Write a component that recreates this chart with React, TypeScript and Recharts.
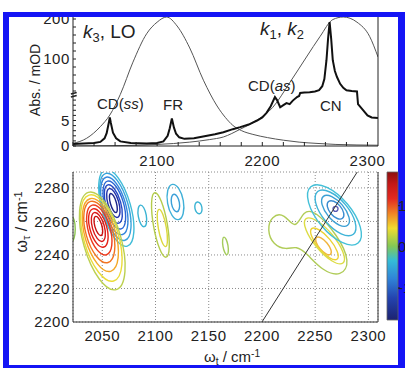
import React from 'react';
import {
  ComposedChart,
  Line,
  XAxis,
  YAxis,
  CartesianGrid,
  ReferenceLine,
  ReferenceArea,
} from 'recharts';

const FONT = '"Liberation Sans", Arial, Helvetica, sans-serif';
const INK = '#222';

// ---------- top panel: absorption spectrum (mOD) + two pulse spectra ----------
const absX = [2020, 2030, 2040, 2046, 2050, 2052, 2054, 2055, 2056, 2058, 2061, 2065, 2075, 2090, 2100, 2106, 2110, 2112, 2114, 2116, 2118, 2121, 2126, 2135, 2145, 2155, 2163, 2172, 2179, 2187, 2195, 2200, 2204, 2208, 2212, 2214, 2217, 2220, 2223, 2226, 2229, 2233, 2235, 2236, 2240, 2245, 2250, 2254, 2257, 2259, 2261, 2262.5, 2264, 2265.5, 2267, 2269, 2271, 2274, 2277, 2280, 2285, 2290, 2291, 2296, 2300, 2304, 2310];
const absY = [0.4, 0.5, 0.6, 0.8, 1.5, 2.5, 4.5, 5.6, 4.5, 2.6, 1.5, 0.9, 0.6, 0.5, 0.6, 0.9, 2.0, 3.5, 5.4, 3.6, 2.4, 1.7, 1.4, 1.5, 1.9, 2.3, 2.7, 3.3, 3.7, 4.2, 5.0, 5.6, 6.5, 7.8, 9.6, 9.0, 7.6, 8.0, 8.4, 8.2, 8.9, 9.6, 9.8, 15, 16, 17, 19, 22, 32, 50, 97, 150, 192, 150, 97, 70, 55, 38, 28, 22, 20, 19, 8.2, 7.0, 6.0, 5.6, 5.5];

// k3, LO pulse (normalised)
const k3X = [2020, 2033, 2046, 2055, 2065, 2077, 2090, 2100, 2109, 2119, 2131, 2144, 2157, 2165, 2172, 2180, 2191, 2205, 2220, 2235, 2252, 2270, 2290, 2310];
const k3Y = [0.02, 0.06, 0.15, 0.24, 0.4, 0.65, 0.87, 0.96, 1.0, 0.93, 0.76, 0.51, 0.31, 0.22, 0.16, 0.12, 0.09, 0.065, 0.045, 0.03, 0.02, 0.012, 0.008, 0.006];

// k1, k2 pulse (normalised)
const k12X = [2020, 2077, 2100, 2131, 2150, 2163, 2179, 2195, 2210, 2226, 2242, 2255, 2267, 2277, 2290, 2302, 2310];
const k12Y = [0.0, 0.005, 0.012, 0.03, 0.05, 0.07, 0.13, 0.2, 0.3, 0.49, 0.69, 0.85, 0.98, 1.0, 0.96, 0.85, 0.69];

const topTicksX = [2020, 2040, 2060, 2080, 2100, 2120, 2140, 2160, 2180, 2200, 2220, 2240, 2260, 2280, 2300];
const topLabelsX = [2100, 2200, 2300];
const absTicks = [0, 1, 2, 3, 4, 5, 6, 7, 8, 9, 20, 40, 60, 80, 100, 120, 140, 160, 180, 200];
const absLabels = [0, 5, 100, 200];

// broken axis: 0-10 mOD stretched, above 10 compressed
const toDisplay = (v: number) => (v <= 10 ? v * 5.1 : 51 + (v - 10) * 0.4);
const absTickD = absTicks.map(toDisplay);

const absData = absX.map((x, i) => ({ x, d: toDisplay(absY[i]) }));
const k3Data = k3X.map((x, i) => ({ x, n: k3Y[i] }));
const k12Data = k12X.map((x, i) => ({ x, n: k12Y[i] }));

// ---------- bottom panel: 2D spectrum contours (omega_t, omega_tau) ----------
const mapTicksX = [2050, 2100, 2150, 2200, 2250, 2300];
const mapTicksY = [2200, 2220, 2240, 2260, 2280];

// positive peak near (2046, 2257), inner -> outer
const redColors = ['#c81010', '#d81818', '#e42218', '#ee3a1c', '#f27420', '#f4a828', '#eadc38', '#bcd050'];
const redContours = [
  [[2049.2, 2251.0], [2050.8, 2253.3], [2049.8, 2257.9], [2046.8, 2262.2], [2043.5, 2263.6], [2041.8, 2261.3], [2042.8, 2256.7], [2045.9, 2252.4]],
  [[2050.6, 2247.2], [2053.5, 2250.8], [2052.3, 2257.8], [2047.5, 2264.2], [2042.0, 2266.2], [2039.1, 2262.6], [2040.3, 2255.6], [2045.1, 2249.2]],
  [[2052.0, 2243.5], [2056.3, 2248.3], [2054.7, 2257.6], [2048.2, 2266.1], [2040.6, 2268.7], [2036.3, 2263.9], [2037.9, 2254.6], [2044.4, 2246.1]],
  [[2054.6, 2238.5], [2060.2, 2244.7], [2058.1, 2256.9], [2049.7, 2267.9], [2039.8, 2271.3], [2034.2, 2265.1], [2036.3, 2252.9], [2044.7, 2241.9]],
  [[2056.3, 2233.5], [2063.1, 2241.2], [2060.6, 2256.2], [2050.2, 2269.7], [2038.1, 2273.9], [2031.3, 2266.3], [2033.8, 2251.3], [2044.2, 2237.7]],
  [[2059.0, 2227.9], [2066.7, 2236.9], [2063.6, 2254.7], [2051.4, 2270.9], [2037.4, 2275.9], [2029.7, 2266.9], [2032.8, 2249.1], [2045.0, 2233.0]],
  [[2061.9, 2221.7], [2070.5, 2232.3], [2066.5, 2253.3], [2052.3, 2272.4], [2036.3, 2278.5], [2027.8, 2267.9], [2031.7, 2246.9], [2045.9, 2227.8]],
  [[2064.5, 2216.2], [2073.6, 2228.1], [2068.9, 2251.9], [2053.1, 2273.6], [2035.5, 2280.6], [2026.4, 2268.1], [2031.1, 2245.0], [2046.9, 2223.2]],
];

// negative peak near (2060, 2271), inner -> outer
const blueColors = ['#1c2488', '#2030a8', '#2448c4', '#2a66d4', '#3286dc', '#38a4dc', '#40bcd8'];
const blueContours = [
  [[2063.3, 2264.7], [2064.5, 2266.9], [2063.4, 2271.5], [2060.5, 2275.8], [2057.6, 2277.3], [2056.3, 2275.1], [2057.4, 2270.5], [2060.3, 2266.2]],
  [[2064.7, 2261.5], [2067.3, 2265.0], [2065.9, 2272.0], [2061.2, 2278.4], [2056.1, 2280.5], [2053.5, 2277.0], [2054.9, 2270.0], [2059.6, 2263.6]],
  [[2066.1, 2257.8], [2069.7, 2262.4], [2067.9, 2271.8], [2061.6, 2280.3], [2054.7, 2283.0], [2051.1, 2278.4], [2052.9, 2269.0], [2059.2, 2260.5]],
  [[2068.4, 2254.0], [2073.0, 2259.9], [2070.7, 2271.5], [2062.9, 2282.2], [2054.2, 2285.6], [2049.6, 2279.8], [2051.9, 2268.1], [2059.7, 2257.4]],
  [[2069.9, 2250.4], [2075.4, 2257.4], [2072.7, 2271.4], [2063.3, 2284.2], [2052.8, 2288.2], [2047.2, 2281.2], [2049.9, 2267.2], [2059.3, 2254.4]],
  [[2072.3, 2246.6], [2078.5, 2254.7], [2075.2, 2271.1], [2064.4, 2286.0], [2052.3, 2290.8], [2046.1, 2282.7], [2049.4, 2266.3], [2060.2, 2251.4]],
  [[2074.6, 2242.8], [2081.4, 2252.1], [2077.6, 2270.7], [2065.3, 2287.8], [2051.8, 2293.4], [2045.0, 2284.1], [2048.8, 2265.5], [2061.1, 2248.4]],
];

// small features between the main peaks
const smallColors = ['#3cb4d4', '#b4cc4c', '#dcd83c', '#40b0d8', '#3ca0d8', '#3cb4d4', '#a4cc5c', '#8cc450'];
const smallContours = [
  [[2089.6, 2256.2], [2091.9, 2258.6], [2091.7, 2263.8], [2089.1, 2268.7], [2085.6, 2270.4], [2083.3, 2268.0], [2083.5, 2262.8], [2086.1, 2257.9]],
  [[2110.5, 2236.6], [2113.8, 2243.4], [2111.7, 2258.7], [2105.5, 2273.6], [2098.7, 2279.2], [2095.4, 2272.4], [2097.5, 2257.1], [2103.7, 2242.3]],
  [[2109.8, 2243.8], [2111.7, 2247.7], [2110.5, 2256.6], [2106.9, 2265.1], [2103.0, 2268.4], [2101.1, 2264.5], [2102.3, 2255.6], [2105.9, 2247.1]],
  [[2121.9, 2260.0], [2126.8, 2264.0], [2126.9, 2272.5], [2122.2, 2280.5], [2115.5, 2283.2], [2110.7, 2279.2], [2110.6, 2270.7], [2115.2, 2262.7]],
  [[2120.3, 2265.2], [2122.7, 2267.2], [2122.8, 2271.5], [2120.4, 2275.4], [2117.1, 2276.8], [2114.7, 2274.8], [2114.6, 2270.5], [2117.0, 2266.6]],
  [[2141.4, 2264.2], [2143.6, 2265.6], [2143.9, 2268.5], [2142.1, 2271.1], [2139.2, 2272.0], [2137.0, 2270.6], [2136.7, 2267.7], [2138.5, 2265.1]],
  [[2167.3, 2239.6], [2168.6, 2241.5], [2168.3, 2245.7], [2166.4, 2249.7], [2164.1, 2251.2], [2162.8, 2249.3], [2163.1, 2245.1], [2165.0, 2241.1]],
  [[2020.9, 2247.0], [2023.8, 2249.5], [2025.0, 2255.5], [2023.8, 2261.5], [2020.9, 2264.0], [2018.0, 2261.5], [2016.8, 2255.5], [2018.0, 2249.5]],
];

// CN region: negative (cyan) and positive (yellow) peaks, inner -> outer
const cyanColors = ['#5a5ab4', '#3a8cd0', '#3ca0d4', '#40b4d8', '#44c0d8'];
const cyanContours = [
  [[2271.7, 2267.5], [2270.9, 2268.7], [2269.1, 2269.1], [2267.3, 2268.7], [2266.5, 2267.5], [2267.3, 2266.3], [2269.1, 2265.9], [2270.9, 2266.3]],
  [[2276.4, 2261.4], [2277.6, 2264.8], [2273.9, 2269.4], [2267.3, 2272.6], [2261.8, 2272.4], [2260.6, 2269.0], [2264.4, 2264.4], [2270.9, 2261.2]],
  [[2281.7, 2256.8], [2283.1, 2262.2], [2276.2, 2270.1], [2265.2, 2275.7], [2256.5, 2275.9], [2255.1, 2270.4], [2262.0, 2262.5], [2273.0, 2256.9]],
  [[2287.7, 2251.0], [2289.5, 2259.0], [2279.4, 2270.6], [2263.2, 2278.9], [2250.5, 2279.2], [2248.7, 2271.2], [2258.8, 2259.6], [2275.0, 2251.3]],
  [[2292.7, 2245.3], [2295.0, 2255.8], [2281.6, 2271.1], [2260.2, 2282.1], [2243.5, 2282.5], [2241.2, 2272.0], [2254.6, 2256.7], [2276.0, 2245.7]],
];
const yellowColors = ['#f0b43c', '#ecd234', '#dcdc44', '#b0cc58'];
const yellowContours = [
  [[2265.1, 2239.9], [2265.5, 2242.8], [2261.4, 2247.3], [2255.2, 2250.7], [2250.5, 2250.9], [2250.1, 2248.0], [2254.2, 2243.5], [2260.5, 2240.2]],
  [[2272.0, 2236.6], [2272.0, 2241.6], [2264.2, 2249.6], [2253.2, 2255.8], [2245.4, 2256.7], [2245.4, 2251.6], [2253.2, 2243.6], [2264.2, 2237.4]],
  [[2278.0, 2233.8], [2277.9, 2241.1], [2266.6, 2252.6], [2250.7, 2261.7], [2239.4, 2263.0], [2239.5, 2255.7], [2250.8, 2244.2], [2266.7, 2235.1]],
  [[2208.9, 2263.3], [2221.1, 2265.1], [2231.5, 2254.3], [2239.0, 2266.9], [2250.3, 2266.3], [2271.0, 2251.9], [2283.2, 2235.8], [2274.7, 2226.9], [2256.8, 2230.4], [2241.8, 2241.2], [2232.4, 2245.4], [2223.0, 2243.0], [2210.4, 2246.0], [2204.8, 2254.9]],
];

const diagonal = [2200, 2290];

// colour bar
const barRange = [-1.78, 1.82];
const barTicks = [-1, 0, 1];
const jetStops: [number, string][] = [
  [0, '#8c1010'], [0.08, '#c41818'], [0.18, '#e42a20'], [0.28, '#f08424'], [0.38, '#f0dc30'],
  [0.5, '#84c854'], [0.6, '#34bcd8'], [0.72, '#3084d8'], [0.85, '#2444b0'], [1, '#1c2270'],
];

const contours = [
  ...yellowContours.map((pts, i) => ({ pts, color: yellowColors[i] })),
  ...cyanContours.map((pts, i) => ({ pts, color: cyanColors[i] })),
  ...smallContours.map((pts, i) => ({ pts, color: smallColors[i] })),
  ...blueContours.map((pts, i) => ({ pts, color: blueColors[i] })),
  ...redContours.map((pts, i) => ({ pts, color: redColors[i] })),
];

const tickStyle = { fill: INK, fontSize: 15, fontFamily: FONT, letterSpacing: 0.6 };

const Note = ({ left, top, size, rotate, children }: any) => (
  <div
    style={{
      position: 'absolute',
      left,
      top,
      fontSize: size,
      lineHeight: 1,
      whiteSpace: 'nowrap',
      color: INK,
      fontFamily: FONT,
      transform: rotate ? 'translate(-50%, -50%) rotate(-90deg)' : undefined,
    }}
  >
    {children}
  </div>
);

const Sub = ({ children }: any) => (
  <span style={{ fontSize: '0.68em', position: 'relative', top: '0.3em' }}>{children}</span>
);
const Sup = ({ children }: any) => (
  <span style={{ fontSize: '0.68em', position: 'relative', top: '-0.5em' }}>{children}</span>
);

export default function App() {
  return (
    <div style={{ position: 'absolute', left: 0, top: 0, width: 405, height: 368, background: '#fff', overflow: 'hidden' }}>
      {/* absorption panel */}
      <div style={{ position: 'absolute', left: 0, top: 0 }}>
        <ComposedChart width={405} height={170} margin={{ top: 17, right: 0, bottom: 0, left: 0 }}>
          <XAxis
            type="number"
            dataKey="x"
            domain={[2020, 2310]}
            allowDataOverflow
            ticks={topTicksX}
            interval={0}
            tickFormatter={(v: number) => (topLabelsX.includes(v) ? String(v) : '')}
            height={24}
            tickSize={-4}
            tickMargin={13}
            stroke={INK}
            tick={tickStyle}
          />
          <YAxis
            yAxisId="d"
            type="number"
            domain={[0, 129]}
            allowDataOverflow
            ticks={absTickD}
            interval={0}
            tickFormatter={(v: number) => {
              const i = absTickD.indexOf(v);
              return i >= 0 && absLabels.includes(absTicks[i]) ? String(absTicks[i]) : '';
            }}
            width={73}
            tickSize={-3}
            tickMargin={6}
            stroke={INK}
            tick={tickStyle}
          />
          <YAxis yAxisId="n" orientation="right" type="number" domain={[0, 1]} allowDataOverflow width={27} tick={false} tickLine={false} stroke={INK} />
          <Line yAxisId="n" data={k3Data} dataKey="n" type="monotone" stroke="#555" strokeWidth={1} dot={false} activeDot={false} isAnimationActive={false} />
          <Line yAxisId="n" data={k12Data} dataKey="n" type="monotone" stroke="#555" strokeWidth={1} dot={false} activeDot={false} isAnimationActive={false} />
          <Line yAxisId="d" data={absData} dataKey="d" type="linear" stroke="#111" strokeWidth={2} dot={false} activeDot={false} isAnimationActive={false} />
          <ReferenceLine yAxisId="d" segment={[{ x: 2018, y: 49 }, { x: 2023.5, y: 50.5 }]} stroke={INK} strokeWidth={1.5} ifOverflow="visible" />
          <ReferenceLine yAxisId="d" segment={[{ x: 2018, y: 52 }, { x: 2023.5, y: 53.5 }]} stroke={INK} strokeWidth={1.5} ifOverflow="visible" />
        </ComposedChart>
      </div>

      {/* 2D contour panel */}
      <div style={{ position: 'absolute', left: 0, top: 150 }}>
        <ComposedChart width={405} height={218} margin={{ top: 22, right: 0, bottom: 0, left: 0 }}>
          <CartesianGrid stroke="#8a8a8a" strokeDasharray="1 2" />
          <XAxis
            type="number"
            dataKey="x"
            domain={[2022.5, 2309]}
            allowDataOverflow
            ticks={mapTicksX}
            interval={0}
            height={46}
            tickSize={0}
            tickMargin={8}
            stroke="#333"
            tick={tickStyle}
          />
          <XAxis xAxisId="top" orientation="top" type="number" domain={[2022.5, 2309]} height={0} tick={false} tickLine={false} stroke="#333" />
          <YAxis
            type="number"
            domain={[2200, 2289.5]}
            allowDataOverflow
            ticks={mapTicksY}
            interval={0}
            width={73}
            tickSize={0}
            tickMargin={3}
            stroke="#333"
            tick={tickStyle}
          />
          <YAxis yAxisId="right" orientation="right" type="number" domain={[2200, 2289.5]} width={27} tick={false} tickLine={false} stroke="#333" />
          {contours.map((c, i) => (
            <Line
              key={i}
              data={c.pts.map(([x, y]) => ({ x, y }))}
              dataKey="y"
              type="basisClosed"
              stroke={c.color}
              strokeWidth={1.4}
              dot={false}
              activeDot={false}
              isAnimationActive={false}
            />
          ))}
          <Line
            data={diagonal.map((v) => ({ x: v, y: v }))}
            dataKey="y"
            type="linear"
            stroke="#333"
            strokeWidth={1}
            dot={false}
            activeDot={false}
            isAnimationActive={false}
          />
        </ComposedChart>
      </div>

      {/* annotations */}
      <Note left={83} top={22} size={19}>
        <i>k</i><Sub>3</Sub>, LO
      </Note>
      <Note left={260} top={19} size={19}>
        <i>k</i><Sub>1</Sub>, <i>k</i><Sub>2</Sub>
      </Note>
      <Note left={97} top={96} size={15}>
        CD(<i>ss</i>)
      </Note>
      <Note left={163} top={97} size={15}>FR</Note>
      <Note left={248} top={78} size={15}>
        CD(<i>as</i>)
      </Note>
      <Note left={320} top={98} size={15}>CN</Note>
      <Note left={35} top={80} size={14} rotate>
        Abs. / mOD
      </Note>
      <Note left={22} top={222} size={16} rotate>
        ω<Sub>τ</Sub> / cm<Sup>-1</Sup>
      </Note>
      <Note left={204} top={349} size={15}>
        ω<Sub>t</Sub> / cm<Sup>-1</Sup>
      </Note>

      {/* blue frame */}
      <div style={{ position: 'absolute', left: 3, top: 12, width: 402, height: 5, background: '#1414f5' }} />
      <div style={{ position: 'absolute', left: 3, top: 12, width: 6, height: 356, background: '#1414f5' }} />
      <div style={{ position: 'absolute', left: 398, top: 12, width: 7, height: 356, background: '#1414f5' }} />
      <div style={{ position: 'absolute', left: 3, top: 365, width: 402, height: 3, background: '#1414f5' }} />

      {/* colour bar */}
      <div style={{ position: 'absolute', left: 380, top: 160 }}>
        <ComposedChart width={45} height={175} margin={{ top: 12, right: 0, bottom: 15, left: 7 }}>
          <defs>
            <linearGradient id="jet" x1="0" y1="0" x2="0" y2="1">
              {jetStops.map(([o, c]) => (
                <stop key={o} offset={o} stopColor={c} />
              ))}
            </linearGradient>
          </defs>
          <XAxis type="number" dataKey="x" domain={[0, 1]} hide />
          <YAxis
            orientation="right"
            type="number"
            domain={barRange}
            allowDataOverflow
            ticks={barTicks}
            interval={0}
            width={27}
            tickSize={2}
            tickMargin={-2}
            axisLine={false}
            stroke={INK}
            tick={{ ...tickStyle, letterSpacing: 0 }}
          />
          <ReferenceArea x1={0} x2={1} y1={barRange[0]} y2={barRange[1]} fill="url(#jet)" fillOpacity={1} stroke="#666" strokeWidth={0.8} />
          <Line
            data={barRange.map((v, i) => ({ x: i, y: v }))}
            dataKey="y"
            stroke="none"
            dot={false}
            activeDot={false}
            isAnimationActive={false}
          />
        </ComposedChart>
      </div>
    </div>
  );
}
